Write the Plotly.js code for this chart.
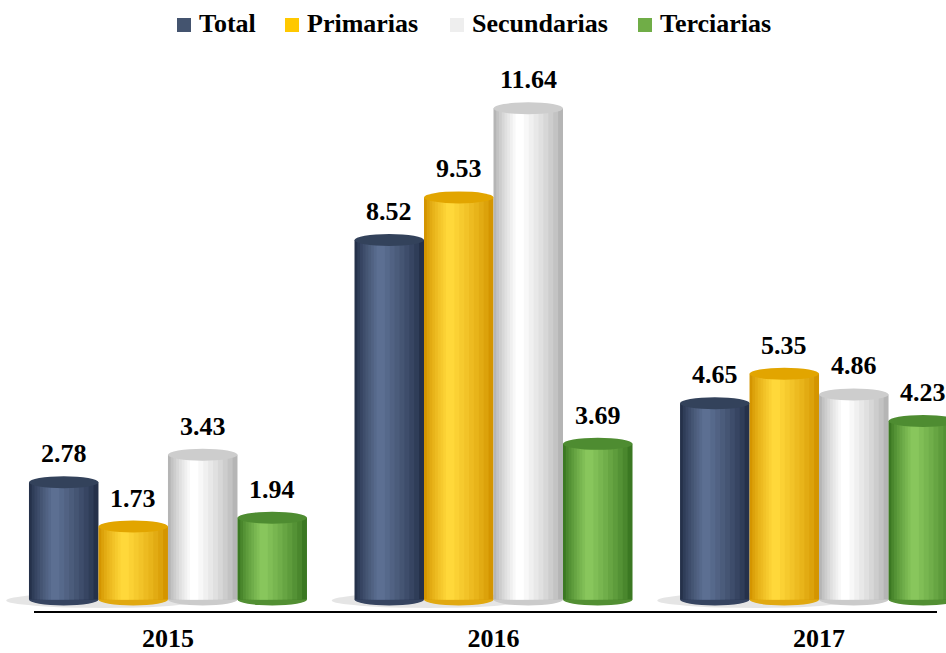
<!DOCTYPE html>
<html>
<head>
<meta charset="utf-8">
<script src="https://cdn.plot.ly/plotly-3.0.1.min.js"></script>
<style>html,body{margin:0;padding:0;background:#fff;}#chart{width:946px;height:653px;}</style>
</head>
<body>
<div id="chart"></div>
<script>
// ---- data ----
const years = ['2015', '2016', '2017'];
const seriesNames = ['Total', 'Primarias', 'Secundarias', 'Terciarias'];
const total = [2.78, 8.52, 4.65];
const primarias = [1.73, 9.53, 5.35];
const secundarias = [3.43, 11.64, 4.86];
const terciarias = [1.94, 3.69, 4.23];
const seriesValues = [total, primarias, secundarias, terciarias];

// ---- styles ----
const edgeColors = ['#25314a', '#d49500', '#b5b5b5', '#3b7822'];
const lightColors = ['#5c6f92', '#ffd83a', '#ffffff', '#88c65c'];
const capColors = ['#33425b', '#e2a500', '#cdcdcd', '#4e8c31'];
const legendColors = ['#44546f', '#ffc800', '#eeeeee', '#70ad47'];
const FONT = 'Liberation Serif, Times New Roman, serif';
const W = 946, H = 653, MT = 10, MB = 45;
const plotH = H - MT - MB;
const py = px => (H - MB - px) / plotH;   // pixel row -> paper y
const pxx = px => px / W;                 // pixel col -> paper x
// custom legend layout (pixel columns of square left edge and text left edge)
const legendSquareX = [177, 285, 450, 638];
const legendTextX = [197, 305, 470, 658];

function hex2rgb(h) { return [1, 3, 5].map(i => parseInt(h.substr(i, 2), 16)); }
function mix(a, b, t) {
  const A = hex2rgb(a), B = hex2rgb(b);
  return 'rgb(' + A.map((v, i) => Math.round(v + (B[i] - v) * t)).join(',') + ')';
}

const barW = 0.2135;
const groupHalf = 2 * barW;
const pxPerUnit = 42.2;
const capHalf = 6 / pxPerUnit;
const xs = years.map((_, i) => i);
const nLayers = 9;
const hiPos = 0.36;

const traces = [];
const shapes = [];
const annotations = [];

// soft shadows at the base of each group
xs.forEach(i => {
  shapes.push({
    type: 'circle', xref: 'x', yref: 'y', layer: 'below',
    x0: i - groupHalf - 0.07, x1: i + 0.1, y0: -0.2, y1: 0.16,
    fillcolor: 'rgba(0,0,0,0.10)', line: {width: 0}
  });
});

seriesValues.forEach((vals, s) => {
  const off = -groupHalf + s * barW;
  for (let k = 0; k < nLayers; k++) {
    const f = 1 - k * (0.88 / (nLayers - 1));
    const l = hiPos - hiPos * f, r = hiPos + (1 - hiPos) * f;
    const t = Math.pow(k / (nLayers - 1), 0.8);
    traces.push({
      type: 'bar', x: xs, y: vals,
      offset: off + l * barW, width: (r - l) * barW,
      marker: {color: mix(edgeColors[s], lightColors[s], t), line: {width: 0}},
      name: seriesNames[s], showlegend: false, hoverinfo: 'skip'
    });
  }
  vals.forEach((v, i) => {
    const x0 = i + off, x1 = i + off + barW;
    shapes.push({
      type: 'circle', xref: 'x', yref: 'y', layer: 'above',
      x0: x0, x1: x1, y0: v - capHalf, y1: v + capHalf,
      fillcolor: capColors[s], line: {width: 0}
    });
    shapes.push({
      type: 'circle', xref: 'x', yref: 'y', layer: 'below',
      x0: x0, x1: x1, y0: -capHalf, y1: capHalf,
      fillcolor: mix(edgeColors[s], lightColors[s], 0.3), line: {width: 0}
    });
    annotations.push({
      x: i + off + barW / 2, y: v, xref: 'x', yref: 'y',
      text: v.toFixed(2), showarrow: false, yanchor: 'bottom', yshift: 12,
      font: {family: FONT, size: 26, color: '#000', weight: 'bold'}
    });
  });
});

// custom legend (squares + bold text)
seriesNames.forEach((n, s) => {
  shapes.push({
    type: 'rect', xref: 'paper', yref: 'paper', layer: 'above',
    x0: pxx(legendSquareX[s]), x1: pxx(legendSquareX[s] + 14),
    y0: py(32), y1: py(18),
    fillcolor: legendColors[s], line: {width: 0}
  });
  annotations.push({
    x: pxx(legendTextX[s]), y: py(24), xref: 'paper', yref: 'paper',
    xanchor: 'left', yanchor: 'middle', showarrow: false, text: n,
    font: {family: FONT, size: 26, color: '#000', weight: 'bold'}
  });
});

// baseline line
shapes.push({
  type: 'line', xref: 'paper', yref: 'paper',
  x0: pxx(34), x1: pxx(937), y0: py(612), y1: py(612),
  line: {color: '#000', width: 2}
});

const layout = {
  width: W, height: H,
  margin: {l: 0, r: 0, t: MT, b: MB, autoexpand: false},
  paper_bgcolor: '#fff', plot_bgcolor: '#fff',
  barmode: 'overlay',
  showlegend: false,
  xaxis: {
    range: [-0.516, 2.39], tickvals: xs, ticktext: years,
    showgrid: false, zeroline: false, showline: false, ticks: '',
    ticklabelstandoff: 12, automargin: false,
    tickfont: {family: FONT, size: 26, color: '#000', weight: 'bold'},
    fixedrange: true
  },
  yaxis: {range: [-0.2, 13.97], visible: false, showgrid: false, zeroline: false, fixedrange: true, automargin: false},
  shapes: shapes,
  annotations: annotations
};

Plotly.newPlot('chart', traces, layout, {displayModeBar: false, staticPlot: true});
</script>
</body>
</html>
